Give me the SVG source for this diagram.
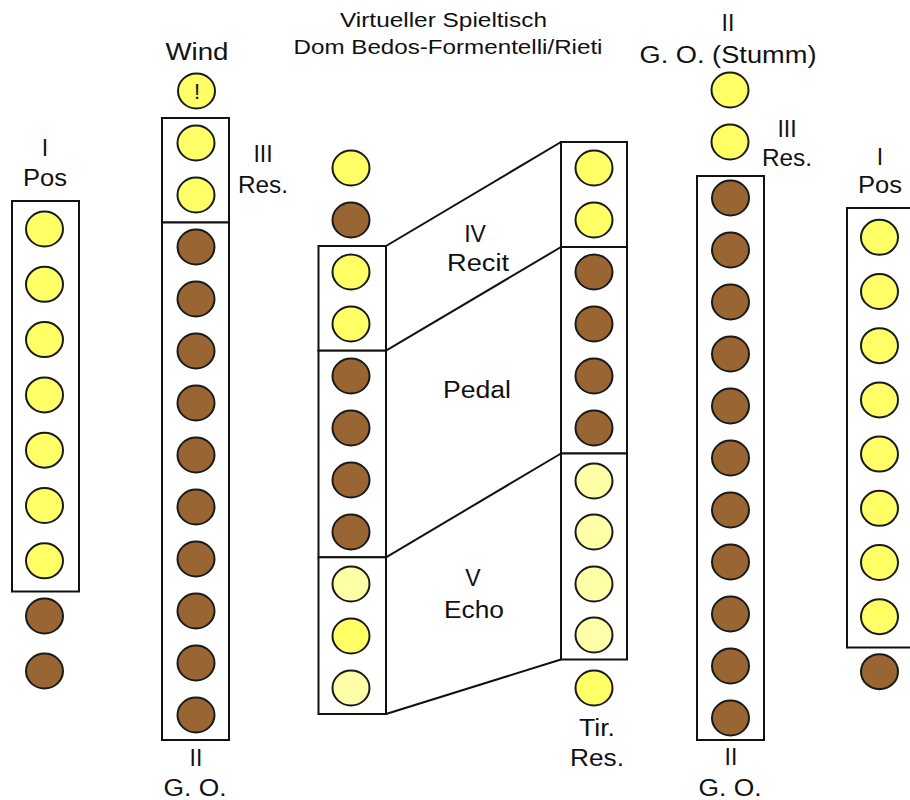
<svg xmlns="http://www.w3.org/2000/svg" width="910" height="800" viewBox="0 0 910 800">
<style>
text{font-family:"Liberation Sans",Arial,sans-serif;font-size:23px;fill:#111;text-anchor:middle}
.t{font-size:21px}
.box{fill:#fff;stroke:#111;stroke-width:2}
ellipse{stroke:#1a1a1a;stroke-width:2}
.y{fill:#FFFF66}
.p{fill:#FFFFA8}
.b{fill:#996633}
.c line{stroke:#111;stroke-width:2}
</style>
<rect width="910" height="800" fill="#fff"/>
<g id="title">
<text class="t" x="443.5" y="27" textLength="207" lengthAdjust="spacingAndGlyphs">Virtueller Spieltisch</text>
<text class="t" x="448" y="53.5" textLength="309" lengthAdjust="spacingAndGlyphs">Dom Bedos-Formentelli/Rieti</text>
</g>
<g id="pos-left">
<text x="45" y="156">I</text>
<text x="45" y="186" textLength="44" lengthAdjust="spacingAndGlyphs">Pos</text>
<rect class="box" x="12" y="201" width="67" height="390.5"/>
<ellipse class="y" cx="44.5" cy="229" rx="18.5" ry="17.5"/>
<ellipse class="y" cx="44.5" cy="284.3" rx="18.5" ry="17.5"/>
<ellipse class="y" cx="44.5" cy="339.6" rx="18.5" ry="17.5"/>
<ellipse class="y" cx="44.5" cy="394.9" rx="18.5" ry="17.5"/>
<ellipse class="y" cx="44.5" cy="450.2" rx="18.5" ry="17.5"/>
<ellipse class="y" cx="44.5" cy="505.5" rx="18.5" ry="17.5"/>
<ellipse class="y" cx="44.5" cy="560.8" rx="18.5" ry="17.5"/>
<ellipse class="b" cx="44.5" cy="616" rx="18.5" ry="17.5"/>
<ellipse class="b" cx="44.5" cy="671" rx="18.5" ry="17.5"/>
</g>
<g id="wind">
<text x="197" y="60" textLength="63" lengthAdjust="spacingAndGlyphs">Wind</text>
<ellipse class="y" cx="196.5" cy="91" rx="18.5" ry="17.5"/>
<text x="197" y="99" style="font-size:22px">!</text>
</g>
<g id="go-left">
<text x="263" y="161.5">III</text>
<text x="263" y="193" textLength="50" lengthAdjust="spacingAndGlyphs">Res.</text>
<rect class="box" x="162" y="118" width="67" height="104.5"/>
<rect class="box" x="162" y="222.5" width="67" height="517.5"/>
<ellipse class="y" cx="196" cy="143" rx="18.5" ry="17.5"/>
<ellipse class="y" cx="196" cy="195" rx="18.5" ry="17.5"/>
<ellipse class="b" cx="196" cy="247" rx="18.5" ry="17.5"/>
<ellipse class="b" cx="196" cy="299" rx="18.5" ry="17.5"/>
<ellipse class="b" cx="196" cy="351" rx="18.5" ry="17.5"/>
<ellipse class="b" cx="196" cy="403" rx="18.5" ry="17.5"/>
<ellipse class="b" cx="196" cy="455" rx="18.5" ry="17.5"/>
<ellipse class="b" cx="196" cy="507" rx="18.5" ry="17.5"/>
<ellipse class="b" cx="196" cy="559" rx="18.5" ry="17.5"/>
<ellipse class="b" cx="196" cy="611" rx="18.5" ry="17.5"/>
<ellipse class="b" cx="196" cy="663" rx="18.5" ry="17.5"/>
<ellipse class="b" cx="196" cy="715" rx="18.5" ry="17.5"/>
<text x="196" y="766">II</text>
<text x="195" y="796" textLength="63" lengthAdjust="spacingAndGlyphs">G. O.</text>
</g>
<g id="center-left">
<ellipse class="y" cx="351" cy="168" rx="18.5" ry="17.5"/>
<ellipse class="b" cx="351" cy="220" rx="18.5" ry="17.5"/>
<rect class="box" x="318.5" y="246" width="67.5" height="104.7"/>
<rect class="box" x="318.5" y="350.7" width="67.5" height="206.6"/>
<rect class="box" x="318.5" y="557.3" width="67.5" height="156.7"/>
<ellipse class="y" cx="351" cy="272" rx="18.5" ry="17.5"/>
<ellipse class="y" cx="351" cy="324" rx="18.5" ry="17.5"/>
<ellipse class="b" cx="351" cy="376" rx="18.5" ry="17.5"/>
<ellipse class="b" cx="351" cy="428" rx="18.5" ry="17.5"/>
<ellipse class="b" cx="351" cy="480" rx="18.5" ry="17.5"/>
<ellipse class="b" cx="351" cy="532" rx="18.5" ry="17.5"/>
<ellipse class="p" cx="351" cy="584" rx="18.5" ry="17.5"/>
<ellipse class="y" cx="351" cy="636" rx="18.5" ry="17.5"/>
<ellipse class="p" cx="351" cy="688" rx="18.5" ry="17.5"/>
</g>
<g id="center-right">
<rect class="box" x="561" y="142" width="66" height="105"/>
<rect class="box" x="561" y="247" width="66" height="206.5"/>
<rect class="box" x="561" y="453.5" width="66" height="206"/>
<ellipse class="y" cx="594" cy="168" rx="18.5" ry="17.5"/>
<ellipse class="y" cx="594" cy="220" rx="18.5" ry="17.5"/>
<ellipse class="b" cx="594" cy="272" rx="18.5" ry="17.5"/>
<ellipse class="b" cx="594" cy="324" rx="18.5" ry="17.5"/>
<ellipse class="b" cx="594" cy="376" rx="18.5" ry="17.5"/>
<ellipse class="b" cx="594" cy="428" rx="18.5" ry="17.5"/>
<ellipse class="p" cx="594" cy="481" rx="18.5" ry="17.5"/>
<ellipse class="p" cx="594" cy="532" rx="18.5" ry="17.5"/>
<ellipse class="p" cx="594" cy="584" rx="18.5" ry="17.5"/>
<ellipse class="p" cx="594" cy="635" rx="18.5" ry="17.5"/>
<ellipse class="y" cx="594" cy="688" rx="18.5" ry="17.5"/>
<text x="597" y="736" textLength="36" lengthAdjust="spacingAndGlyphs">Tir.</text>
<text x="597" y="766" textLength="54" lengthAdjust="spacingAndGlyphs">Res.</text>
</g>
<g id="labels-center">
<text x="475" y="242">IV</text>
<text x="478" y="271" textLength="62" lengthAdjust="spacingAndGlyphs">Recit</text>
<text x="477" y="398" textLength="68" lengthAdjust="spacingAndGlyphs">Pedal</text>
<text x="473" y="586">V</text>
<text x="474" y="618" textLength="60" lengthAdjust="spacingAndGlyphs">Echo</text>
</g>
<g id="connectors" class="c">
<line x1="386" y1="246" x2="561" y2="142"/>
<line x1="386" y1="350.7" x2="561" y2="247"/>
<line x1="386" y1="557.3" x2="561" y2="453.5"/>
<line x1="386" y1="714" x2="561" y2="659.5"/>
</g>
<g id="go-right">
<text x="728" y="31">II</text>
<text x="728" y="63" textLength="177" lengthAdjust="spacingAndGlyphs">G. O. (Stumm)</text>
<ellipse class="y" cx="730" cy="90" rx="18.5" ry="17.5"/>
<ellipse class="y" cx="730" cy="142" rx="18.5" ry="17.5"/>
<text x="787" y="137">III</text>
<text x="787" y="166" textLength="50" lengthAdjust="spacingAndGlyphs">Res.</text>
<rect class="box" x="697" y="176" width="67" height="564"/>
<ellipse class="b" cx="730.5" cy="198" rx="18.5" ry="17.5"/>
<ellipse class="b" cx="730.5" cy="250" rx="18.5" ry="17.5"/>
<ellipse class="b" cx="730.5" cy="302" rx="18.5" ry="17.5"/>
<ellipse class="b" cx="730.5" cy="354" rx="18.5" ry="17.5"/>
<ellipse class="b" cx="730.5" cy="406" rx="18.5" ry="17.5"/>
<ellipse class="b" cx="730.5" cy="458" rx="18.5" ry="17.5"/>
<ellipse class="b" cx="730.5" cy="510" rx="18.5" ry="17.5"/>
<ellipse class="b" cx="730.5" cy="562" rx="18.5" ry="17.5"/>
<ellipse class="b" cx="730.5" cy="614" rx="18.5" ry="17.5"/>
<ellipse class="b" cx="730.5" cy="666" rx="18.5" ry="17.5"/>
<ellipse class="b" cx="730.5" cy="718" rx="18.5" ry="17.5"/>
<text x="731" y="765">II</text>
<text x="730" y="796" textLength="63" lengthAdjust="spacingAndGlyphs">G. O.</text>
</g>
<g id="pos-right">
<text x="880" y="165">I</text>
<text x="880" y="193" textLength="44" lengthAdjust="spacingAndGlyphs">Pos</text>
<rect class="box" x="847" y="208" width="67" height="439.5"/>
<ellipse class="y" cx="879.5" cy="237.3" rx="18.5" ry="17.5"/>
<ellipse class="y" cx="879.5" cy="291.5" rx="18.5" ry="17.5"/>
<ellipse class="y" cx="879.5" cy="345.7" rx="18.5" ry="17.5"/>
<ellipse class="y" cx="879.5" cy="399.9" rx="18.5" ry="17.5"/>
<ellipse class="y" cx="879.5" cy="454.1" rx="18.5" ry="17.5"/>
<ellipse class="y" cx="879.5" cy="508.3" rx="18.5" ry="17.5"/>
<ellipse class="y" cx="879.5" cy="562.5" rx="18.5" ry="17.5"/>
<ellipse class="y" cx="879.5" cy="616.7" rx="18.5" ry="17.5"/>
<ellipse class="b" cx="879.5" cy="671.7" rx="18.5" ry="17.5"/>
</g>
</svg>
